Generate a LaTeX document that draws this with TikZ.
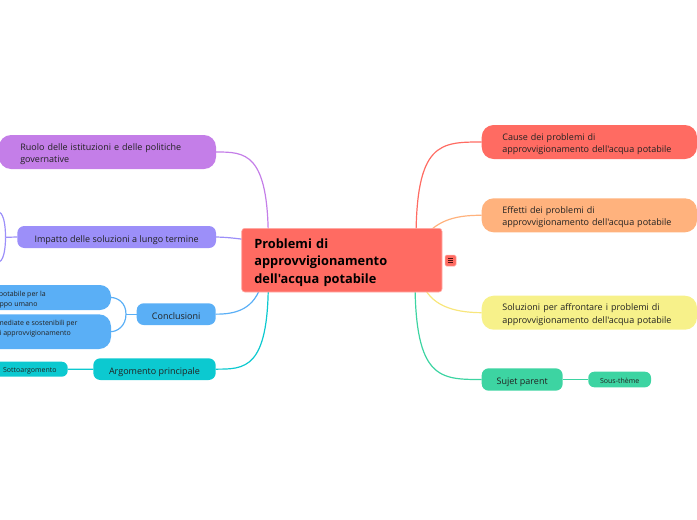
\documentclass[tikz,border=0pt]{standalone}
\usepackage{fontspec}
\newfontfamily\osans{Open Sans}
\usetikzlibrary{calc}
\definecolor{cred}{HTML}{FF6B62}
\definecolor{corange}{HTML}{FFB27D}
\definecolor{cyellow}{HTML}{F7F18A}
\definecolor{cgreen}{HTML}{3DD4A2}
\definecolor{cpurple}{HTML}{C47EE8}
\definecolor{clav}{HTML}{9C8FF9}
\definecolor{cblue}{HTML}{5AAFF6}
\definecolor{ccyan}{HTML}{0CC9D0}
\definecolor{ctext}{HTML}{222222}
\definecolor{cicon}{HTML}{4A1212}
\pgfdeclarelayer{bg}
\pgfsetlayers{bg,main}
\begin{document}
\begin{tikzpicture}[x=1pt,y=-1pt,
  box/.style={anchor=north west, inner ysep=0pt, outer sep=0pt, text=ctext},
  bigbox/.style={box, rounded corners=12pt, minimum height=34pt, font=\osans\fontsize{9}{12.3}\selectfont, align=left, text height=10.6pt},
  midbox/.style={box, rounded corners=7pt, minimum height=22pt, font=\osans\fontsize{9}{11}\selectfont, align=center, inner xsep=0pt, text height=10.4pt, text depth=0pt},
  smallbox/.style={box, rounded corners=6pt, minimum height=15.5pt, font=\osans\fontsize{7}{9}\selectfont, align=center, inner xsep=0pt, text height=7.5pt, text depth=0pt},
  conn/.style={line width=1.2pt},
  tinytext/.style={font=\osans\fontsize{7}{9}\selectfont, text=ctext, inner sep=0pt, anchor=base east},
  iconline/.style={draw=cicon, line width=0.9pt},
]
\useasboundingbox (0,0) rectangle (697,520);
\clip (0,0) rectangle (697,520);

% central
\node[box, fill=cred, draw=cred!55!white, line width=0.6pt, rounded corners=3pt,
      minimum width=200.3pt, minimum height=63.7pt, text width=175pt, inner xsep=12.6pt,
      align=left, font=\osans\bfseries\fontsize{12.8}{17.6}\selectfont, text=black, text height=14pt]
      (center) at (241.7,228.3) {Problemi di\\approvvigionamento\\dell'acqua potabile};

% icon
\node[minimum size=11pt, inner sep=0pt, fill=cred, draw=cred!60!white, line width=0.5pt, rounded corners=1.5pt] (icon) at (450.5,260.5) {};
\draw[iconline] ($(icon.center)+(-2.6,-2.2)$) -- ($(icon.center)+(2.6,-2.2)$);
\draw[iconline] ($(icon.center)+(-2.6,0)$) -- ($(icon.center)+(2.6,0)$);
\draw[iconline] ($(icon.center)+(-2.6,2.2)$) -- ($(icon.center)+(2.6,2.2)$);

% right side
\node[bigbox, fill=cred, minimum width=215.3pt, text width=174pt, inner xsep=20.6pt]
  (cause) at (481.7,125) {Cause dei problemi di\\approvvigionamento dell'acqua potabile};
\node[bigbox, fill=corange, minimum width=215.3pt, text width=174pt, inner xsep=20.6pt]
  (effetti) at (481.7,198.3) {Effetti dei problemi di\\approvvigionamento dell'acqua potabile};
\node[bigbox, fill=cyellow, minimum width=215.3pt, text width=174pt, inner xsep=20.6pt]
  (soluz) at (481.7,295.7) {Soluzioni per affrontare i problemi di\\approvvigionamento dell'acqua potabile};
\node[midbox, fill=cgreen, minimum width=81pt, minimum height=22.4pt]
  (sujet) at (481.7,368.3) {Sujet parent};
\node[smallbox, fill=cgreen, minimum width=62.7pt, minimum height=15.6pt]
  (sous) at (588.3,371.7) {Sous-thème};

% left side
\node[bigbox, fill=cpurple, minimum width=217pt, text width=174.4pt, inner xsep=21.3pt]
  (ruolo) at (-1,135) {Ruolo delle istituzioni e delle politiche\\governative};
\node[midbox, fill=clav, minimum width=198.7pt]
  (impatto) at (17.3,226) {Impatto delle soluzioni a lungo termine};
\node[midbox, fill=cblue, minimum width=79pt, minimum height=21.7pt]
  (concl) at (136.7,303.3) {Conclusioni};
\node[midbox, fill=ccyan, minimum width=122.4pt, minimum height=21.7pt]
  (argom) at (93.3,358.3) {Argomento principale};
\node[smallbox, fill=ccyan, minimum width=75.7pt, minimum height=15pt]
  (sotto) at (-8,361.7) {Sottoargomento};

\node[box, fill=cblue, rounded corners=11pt, minimum width=231pt, minimum height=25pt]
  (cA) at (-120,285) {};
\node[box, fill=cblue, rounded corners=12pt, minimum width=231pt, minimum height=34.7pt]
  (cB) at (-120,314.3) {};
\node[tinytext] (cA1) at (46,296.2) {potabile per la};
\node[tinytext] (cA2) at (37.7,306) {sviluppo umano};
\node[tinytext] (cB1) at (77.7,325) {immediate e sostenibili per};
\node[tinytext] (cB2) at (71,335) {di approvvigionamento};

% connectors
\begin{pgfonlayer}{bg}
\draw[conn, cred] ($(center.north west)+(174.3,12)$) .. controls ($(center.north west)+(174.3,-86)$) and ($(cause.west)+(-41.7,0)$) .. (cause.west);
\draw[conn, corange] ($(center.north west)+(180,12)$) .. controls (435,222) and (452,215) .. (effetti.west);
\draw[conn, cyellow!90!orange] ($(center.south west)+(180,-10)$) .. controls (430,305) and (452,312.5) .. (soluz.west);
\draw[conn, cgreen] ($(center.south west)+(173.3,-12)$) .. controls (415,379.5) and (440,379.5) .. (sujet.west);
\draw[conn, cgreen] (sujet.east) -- (sous.west);

\draw[conn, cpurple] ($(center.north west)+(26.6,12)$) .. controls (268.3,152) and (245,152) .. (ruolo.east);
\draw[conn, clav] (impatto.east) .. controls (230,237.3) and (240,239) .. ($(center.west)+(8.3,-20)$);
\draw[conn, cblue] ($(center.south west)+(20.3,-10)$) .. controls (255,310) and (235,314.2) .. (concl.east);
\draw[conn, ccyan] ($(center.south west)+(26.6,-10)$) .. controls (268.3,369.2) and (245,369.2) .. (argom.east);
\draw[conn, ccyan] (sotto.east) -- (argom.west);

\coordinate (cf) at ($(concl.west)+(-10.7,0)$);
\draw[conn, cblue] (concl.west) -- (cf);
\draw[conn, cblue] (cf) .. controls ($(cf)+(0,-12)$) and ($(cA.east)+(6,0)$) .. (cA.east);
\draw[conn, cblue] (cf) .. controls ($(cf)+(0,12)$) and ($(cB.east)+(6,0)$) .. (cB.east);

\coordinate (imf) at (5.5,237.3);
\coordinate (ima) at (-2,211);
\coordinate (imb) at (-2,263);
\draw[conn, clav] (impatto.west) -- (imf);
\draw[conn, clav] (imf) .. controls (5.5,222) and (3,213) .. (ima);
\draw[conn, clav] (imf) .. controls (5.5,252) and (3,261) .. (imb);
\end{pgfonlayer}
\end{tikzpicture}
\end{document}
